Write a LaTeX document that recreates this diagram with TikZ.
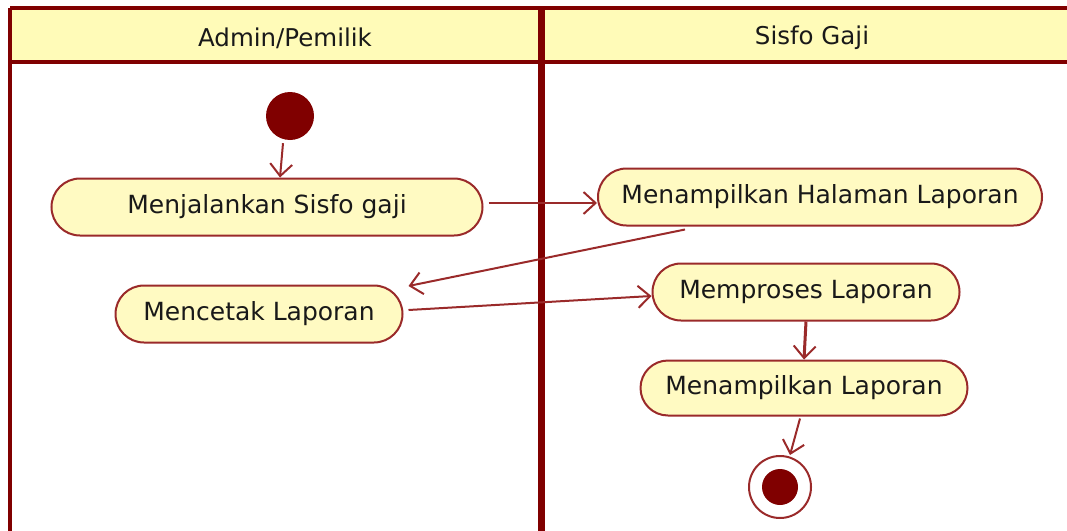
\documentclass[tikz,border=0pt]{standalone}
\usepackage{fontspec}
\setmainfont{DejaVu Sans}
\usetikzlibrary{shapes.misc,arrows.meta,calc}
\definecolor{umlred}{HTML}{800000}
\definecolor{edgered}{HTML}{9A2A2A}
\definecolor{headfill}{HTML}{FFFBB8}
\definecolor{actfill}{HTML}{FFFAC2}
\begin{document}
\begin{tikzpicture}[x=1pt,y=-1pt,
  lane/.style={draw=umlred},
  act/.style={rounded rectangle, draw=edgered, line width=2pt, fill=actfill,
    inner sep=0pt, font=\fontsize{25}{28}\selectfont, text=black!90},
  flow/.style={draw=edgered, line width=2pt,
    -{Straight Barb[length=12pt,width=22pt,line width=2pt]}},
  lanetitle/.style={font=\fontsize{24.5}{27}\selectfont, text=black!90}]
\useasboundingbox (0,0) rectangle (1067,530);
% swimlane headers
\fill[headfill] (10,8) rectangle (1067,62);
\draw[lane, line width=4pt] (10,8) -- (1067,8);
\draw[lane, line width=4pt] (10,62) -- (1067,62);
\draw[lane, line width=3.5pt] (10,8) -- (10,535);
\draw[lane, line width=7pt] (541,6) -- (541,535);
\node[lanetitle] (laneA) at (285,38) {Admin/Pemilik};
\node[lanetitle] (laneB) at (812,38) {Sisfo Gaji};
% activities
\node[circle, fill=umlred, minimum size=48pt, inner sep=0pt] (start) at (290,116) {};
\node[act, minimum width=431pt, minimum height=57pt] (run) at (267,207) {Menjalankan Sisfo gaji};
\node[act, minimum width=444pt, minimum height=57pt] (page) at (820,197) {Menampilkan Halaman Laporan};
\node[act, minimum width=287pt, minimum height=57pt] (print) at (259,314) {Mencetak Laporan};
\node[act, minimum width=307pt, minimum height=57pt] (proc) at (806,292) {Memproses Laporan};
\node[act, minimum width=327pt, minimum height=55pt] (show) at (804,388) {Menampilkan Laporan};
\node[circle, draw=edgered, line width=2pt, fill=white, minimum size=62pt, inner sep=0pt] (stop) at (780,487) {};
\node[circle, fill=umlred, minimum size=36pt, inner sep=0pt] (stopdot) at (stop) {};
% control flows
\draw[flow] ($(start.south)+(-7,3)$) -- ($(run.north)+(13,0)$);
\draw[flow] ($(run.east)+(5,-4)$) -- ($(page.west)+(0,6)$);
\draw[flow] ($(page.south)+(-135,3)$) -- ($(print.east)+(5,-28)$);
\draw[flow] ($(print.east)+(5,-4)$) -- ($(proc.west)+(0,4)$);
\draw[flow, line width=3pt] (proc.south) -- (show.north);
\draw[flow] ($(show.south)+(-4,2)$) -- ($(stop.north)+(10,0)$);
\end{tikzpicture}
\end{document}
